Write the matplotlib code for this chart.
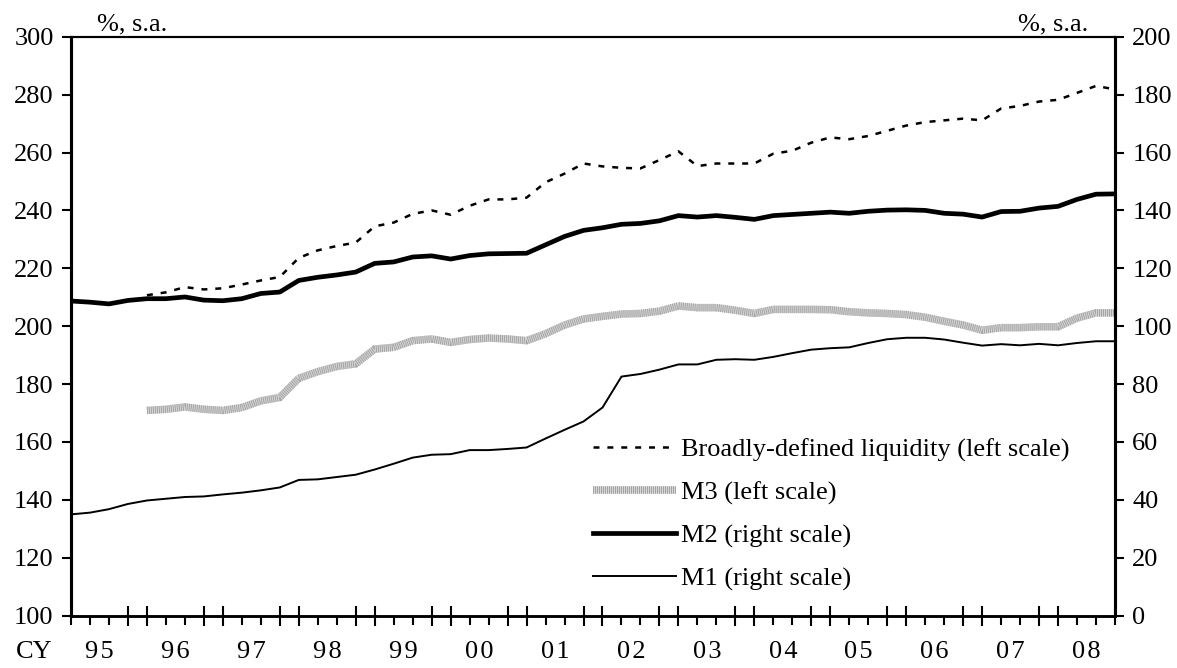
import numpy as np
import matplotlib
matplotlib.use('Agg')
import matplotlib.pyplot as plt

plt.rcParams['font.family'] = ['Liberation Serif', 'DejaVu Serif']
plt.rcParams['font.size'] = 19
plt.rcParams['lines.scale_dashes'] = False

# quarterly, CY1995 Q1 .. CY2008 Q4
quarters = np.arange(56)
years = ['95', '96', '97', '98', '99', '00', '01', '02', '03', '04', '05', '06', '07', '08']

nan = np.nan
# left scale
liquidity = [nan] * 4 + [210.7, 211.7, 213.5, 212.7, 213.1, 214.4, 215.8, 217.0,
                         223.6, 226.2, 227.7, 228.9, 234.5, 235.8, 238.8, 240.0,
                         238.5, 241.6, 243.8, 243.8, 244.4, 249.7, 252.7, 256.2,
                         255.2, 254.7, 254.5, 257.4, 260.4, 255.3, 256.2, 256.2,
                         256.2, 259.6, 260.6, 263.4, 265.2, 264.6, 265.7, 267.5,
                         269.3, 270.5, 271.1, 271.7, 271.1, 275.2, 276.1, 277.6,
                         278.2, 280.6, 283.0, 281.8]
m3 = [nan] * 4 + [170.9, 171.3, 172.1, 171.3, 170.9, 171.9, 174.2, 175.4,
                  182.0, 184.3, 186.1, 187.0, 192.1, 192.7, 195.0, 195.6,
                  194.4, 195.4, 195.9, 195.6, 195.0, 197.4, 200.4, 202.5,
                  203.4, 204.2, 204.4, 205.2, 207.0, 206.4, 206.4, 205.5,
                  204.4, 205.8, 205.8, 205.8, 205.7, 205.0, 204.6, 204.4,
                  204.0, 203.1, 201.7, 200.4, 198.6, 199.5, 199.5, 199.8,
                  199.8, 202.8, 204.6, 204.6]
# right scale
m2 = [108.7, 108.3, 107.7, 108.9, 109.5, 109.5, 110.1, 109.0,
      108.8, 109.5, 111.3, 111.8, 115.8, 116.9, 117.7, 118.7,
      121.7, 122.2, 123.9, 124.3, 123.2, 124.4, 125.0, 125.1,
      125.2, 128.1, 131.0, 133.1, 134.0, 135.2, 135.5, 136.4,
      138.2, 137.7, 138.2, 137.6, 136.9, 138.2, 138.6, 139.0,
      139.4, 139.0, 139.7, 140.1, 140.2, 140.0, 139.0, 138.7,
      137.7, 139.6, 139.7, 140.8, 141.4, 143.8, 145.6, 145.7]
m1 = [35.0, 35.6, 36.8, 38.6, 39.8, 40.4, 41.0, 41.2,
      41.9, 42.5, 43.3, 44.3, 46.9, 47.1, 47.9, 48.7,
      50.5, 52.5, 54.6, 55.6, 55.8, 57.2, 57.2, 57.6,
      58.1, 61.2, 64.2, 67.1, 71.9, 82.6, 83.5, 85.0,
      86.8, 86.8, 88.4, 88.6, 88.4, 89.4, 90.7, 91.9,
      92.4, 92.7, 94.2, 95.5, 96.0, 96.0, 95.4, 94.3,
      93.3, 93.8, 93.4, 93.9, 93.4, 94.2, 94.8, 94.8]

fig = plt.figure(figsize=(11.77, 6.68), dpi=100)
ax = fig.add_axes([71 / 1177, 1 - 615.7 / 668, (1115 - 71) / 1177, (615.7 - 36.7) / 668])
ax2 = ax.twinx()

l_liq, = ax.plot(quarters, liquidity, color='black', lw=1.8, dashes=(4.3, 5.7))
l_m3a, = ax.plot(quarters, m3, color='#d6d6d6', lw=5.4, solid_capstyle='butt')
l_m3b, = ax.plot(quarters, m3, color='#a4a4a4', lw=5.4, dashes=(0.72, 0.72),
                 dash_capstyle='butt')
l_m2, = ax2.plot(quarters, m2, color='black', lw=3.4)
l_m1, = ax2.plot(quarters, m1, color='black', lw=1.4)

ax.set_xlim(0, 55)
ax.set_ylim(100, 300)
ax2.set_ylim(0, 200)
ax.set_yticks(range(100, 301, 20))
ax2.set_yticks(range(0, 201, 20))

# x ticks: long ticks around each year end, short ticks otherwise
long_ticks = [i for i in range(1, 55) if i % 4 in (0, 3)]
short_ticks = [i for i in range(56) if i not in long_ticks]
ax.set_xticks(long_ticks)
ax.set_xticks(short_ticks, minor=True)
ax.tick_params(axis='x', which='major', direction='inout', length=15, width=1.5,
               labelbottom=False)
ax.tick_params(axis='x', which='minor', direction='out', length=6.5, width=1.5,
               labelbottom=False)
ax.tick_params(axis='y', direction='out', length=6.5, width=1.5, pad=6)
ax2.tick_params(axis='y', direction='out', length=6.5, width=1.5, pad=6)

trans = ax.get_xaxis_transform()
for k, yr in enumerate(years):
    ax.text(4 * k + 1.5, -0.063, '\u200a'.join(yr), transform=trans,
            ha='center', va='center')
ax.text(-1.0, -0.063, 'CY', transform=trans, ha='right', va='center')

for a in (ax, ax2):
    a.spines['left'].set_linewidth(2.2)
    a.spines['right'].set_linewidth(2.2)
    a.spines['top'].set_linewidth(1.5)
    a.spines['bottom'].set_linewidth(1.8)

fig.text(97 / 1177, 1 - 24 / 668, '%, s.a.', ha='left', va='center')
fig.text(1088 / 1177, 1 - 24 / 668, '%, s.a.', ha='right', va='center')

handles = [l_liq, (l_m3a, l_m3b), l_m2, l_m1]
labels = ['Broadly-defined liquidity (left scale)', 'M3 (left scale)',
          'M2 (right scale)', 'M1 (right scale)']
ax2.legend(handles, labels, loc='upper left', bbox_to_anchor=(0.5, 0.307),
           frameon=False, handlelength=3.15, handletextpad=0.2, labelspacing=0.72,
           borderaxespad=0, borderpad=0)

fig.savefig('out.png', dpi=100)
